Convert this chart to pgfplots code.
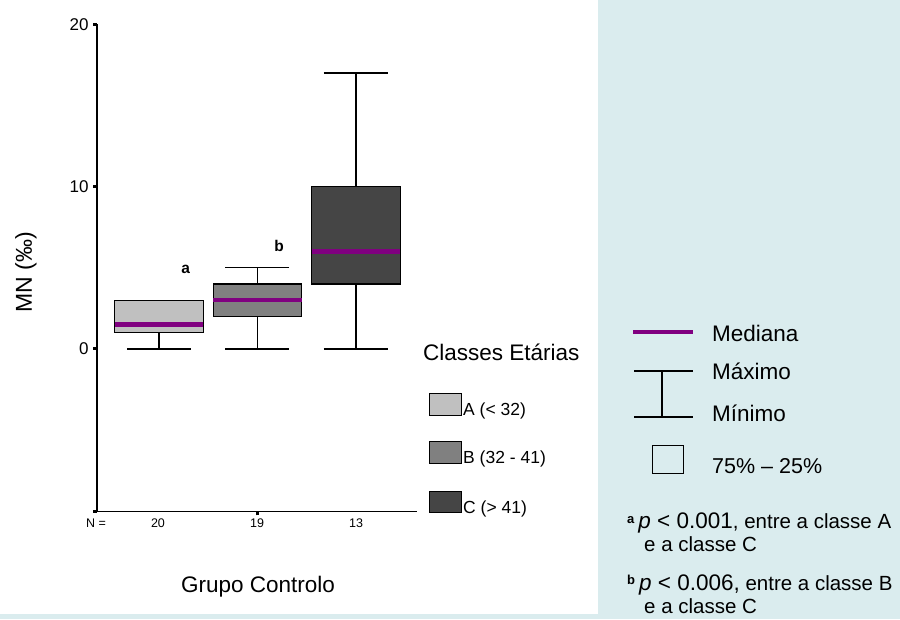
\documentclass[border=0pt]{standalone}
\usepackage{pgfplots}
\pgfplotsset{compat=1.18}
\usepgfplotslibrary{statistics}
\usepackage{fontspec}
\setmainfont{Liberation Sans}
\definecolor{bgblue}{HTML}{DAECEE}
\definecolor{medpurple}{HTML}{800080}
\definecolor{boxA}{HTML}{C0C0C0}
\definecolor{boxB}{HTML}{808080}
\definecolor{boxC}{HTML}{454545}
\newcommand{\fs}[1]{\fontsize{#1}{#1}\selectfont}
\begin{document}
\begin{tikzpicture}[x=1pt,y=1pt]
\useasboundingbox (0,0) rectangle (900,619);
\fill[bgblue] (0,0) rectangle (900,619);
\fill[white] (0,5) rectangle (598,619);
\begin{axis}[
  at={(97pt,107.7pt)}, anchor=south west,
  scale only axis, width=320pt, height=487.1pt,
  xmin=0.37, xmax=3.62, ymin=-10, ymax=20,
  axis x line=bottom, axis y line=left,
  axis line style={-, line width=1.5pt, black},
  ytick={-10,0,10,20}, yticklabels={,0,10,20},
  xtick={2}, xticklabels={},
  tick align=outside, major tick length=4pt,
  tick style={line width=3pt, black},
  /pgf/number format/assume math mode=true,
  yticklabel style={font=\fs{17}, xshift=-1pt},
  clip=false,
  boxplot/draw direction=y,
  boxplot/whisker extend=0.65,
  boxplot/box extend=0.9,
  boxplot/every median/.style={draw=medpurple, line width=4.5pt},
]
\addplot[draw=black, line width=1.3pt, fill=boxA,
  boxplot prepared={draw position=1, lower whisker=0, lower quartile=1,
    median=1.5, upper quartile=3, upper whisker=3}] coordinates {};
\addplot[draw=black, line width=1.3pt, fill=boxB,
  boxplot prepared={draw position=2, lower whisker=0, lower quartile=2,
    median=3, upper quartile=4, upper whisker=5}] coordinates {};
\addplot[draw=black, line width=1.3pt, fill=boxC,
  boxplot prepared={draw position=3, lower whisker=0, lower quartile=4,
    median=6, upper quartile=10, upper whisker=17}] coordinates {};
\node[font=\bfseries\fs{15.5}] at (axis cs:1.27,4.9) {a};
\node[font=\bfseries\fs{15.5}] at (axis cs:2.22,6.35) {b};
\end{axis}
% N labels
\node[font=\fs{12.5}] at (96,96) {N =};
\node[font=\fs{12.5}] at (158,96) {20};
\node[font=\fs{12.5}] at (257,96) {19};
\node[font=\fs{12.5}] at (356,96) {13};
% axis titles
\node[font=\fs{22.5}, anchor=base] at (258,27) {Grupo Controlo};
\node[font=\fs{23}, anchor=base, rotate=90] at (32,347) {MN (‰)};
% legend classes
\node[font=\fs{22.5}, anchor=base west, inner sep=0pt] at (423,258) {Classes Etárias};
\draw[line width=1pt, fill=boxA] (429,203) rectangle (461,225);
\draw[line width=1pt, fill=boxB] (429,155) rectangle (461,177);
\draw[line width=1pt, fill=boxC] (429,106) rectangle (461,127);
\node[font=\fs{17.5}, anchor=base west, inner sep=0pt] at (463,203) {A (< 32)};
\node[font=\fs{17.5}, anchor=base west, inner sep=0pt] at (463,155) {B (32 - 41)};
\node[font=\fs{17.5}, anchor=base west, inner sep=0pt] at (463,106) {C (> 41)};
% right panel key
\draw[medpurple, line width=4pt] (633,287) -- (693,287);
\draw[black, line width=1.6pt] (634,248) -- (693,248) (634,202) -- (693,202) (662,248) -- (662,202);
\draw[black, line width=1pt] (652,145) rectangle (683,173);
\node[font=\fs{22.5}, anchor=base west, inner sep=0pt] at (712,277) {Mediana};
\node[font=\fs{22.5}, anchor=base west, inner sep=0pt] at (712,239) {Máximo};
\node[font=\fs{22.5}, anchor=base west, inner sep=0pt] at (712,197) {Mínimo};
\node[font=\fs{21.5}, anchor=base west, inner sep=0pt] at (712,145) {75\% – 25\%};
% footnotes
\node[anchor=base west, inner sep=0pt] at (627,90) {\raisebox{6pt}{\bfseries\fs{13}a}\hspace{4pt}{\fs{22.5}\textit{p} < 0.001}{\fs{20.5}, entre a classe A}};
\node[anchor=base west, inner sep=0pt, font=\fs{20.5}] at (644,67) {e a classe C};
\node[anchor=base west, inner sep=0pt] at (627,29) {\raisebox{6pt}{\bfseries\fs{13}b}\hspace{4pt}{\fs{22.5}\textit{p} < 0.006,}{\fs{20.5} entre a classe B}};
\node[anchor=base west, inner sep=0pt, font=\fs{20.5}] at (644,6) {e a classe C};
\end{tikzpicture}
\end{document}
